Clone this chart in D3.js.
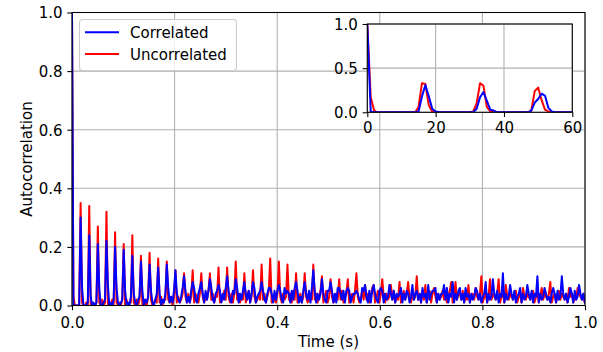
<!DOCTYPE html>
<html>
<head>
<meta charset="utf-8">
<script src="https://cdn.jsdelivr.net/npm/d3@7"></script>
<style>
body { margin: 0; background: #fff; }
text { font-family: "DejaVu Sans", sans-serif; font-size: 15px; fill: #000; }
</style>
</head>
<body>
<script>

var seriesNames = ["Correlated", "Uncorrelated"];
var seriesColors = ["#0000ff", "#ff0000"];

var xTicks = [0, 0.2, 0.4, 0.6, 0.8, 1.0];
var yTicks = [0, 0.2, 0.4, 0.6, 0.8, 1.0];
var insetXTicks = [0, 20, 40, 60];
var insetYTicks = [0, 0.5, 1.0];

// main plot: one row per 16.8 ms period, six readings 2.8 ms apart, in hundredths
var period = 16.8;
var step = 2.8;
var corrMain = [
    [100,0,0,0,0,0], [30,6,0,0,0,1], [24,3,0,1,0,1], [21,6,0,0,1,2], [22,7,0,1,0,2],
    [20,6,1,0,1,2], [19,5,0,1,0,3], [17,4,1,0,2,3], [15,5,0,2,1,3], [14,5,1,0,2,4],
    [13,4,0,2,1,4], [14,6,1,3,1,5], [12,4,2,1,3,6], [10,5,1,3,1,5], [8,6,2,1,4,6],
    [8,4,1,5,2,5], [9,6,2,1,4,5], [7,5,1,4,2,6], [10,5,2,1,5,4], [9,6,1,4,2,5],
    [8,4,2,5,1,4], [8,6,1,3,4,5], [8,5,2,1,4,6], [6,4,1,5,2,5], [7,5,2,1,6,4],
    [5,4,1,5,2,6], [8,5,1,3,1,5], [8,4,2,5,1,6], [12,5,1,4,2,4], [9,4,2,1,5,5],
    [8,5,1,4,1,6], [6,4,2,5,1,5], [6,5,1,3,4,4], [5,4,2,1,6,5], [7,3,1,5,1,5],
    [7,4,2,1,5,6], [5,1,4,2,3,7], [4,2,5,1,4,3], [4,6,1,4,2,5], [4,1,3,7,2,4],
    [5,2,4,1,6,3], [4,1,7,2,4,5], [5,6,1,4,2,4], [4,7,2,6,1,4], [3,8,1,4,2,5],
    [6,2,4,1,6,3], [4,1,4,2,3,6], [5,2,4,1,3,4], [8,1,4,2,3,9], [4,2,5,1,4,3],
    [11,1,4,2,3,7], [4,2,5,1,3,4], [6,1,4,2,3,7], [4,2,5,1,4,3], [10,1,4,2,3,6],
    [4,2,3,1,4,6], [4,1,5,2,3,10], [4,2,4,1,3,6], [4,1,5,2,3,7], [4,2,4,1,3,2]
];
var uncorrMain = [
    [100,3,0,0,0,0], [35,1,0,0,1,0], [34,0,1,0,0,1], [27,1,0,2,0,1], [32,0,1,0,2,0],
    [25,1,0,1,0,2], [21,0,2,0,1,1], [24,1,0,2,0,2], [17,0,2,1,0,3], [18,2,0,1,2,1],
    [16,1,3,0,2,2], [15,2,1,3,0,3], [12,1,3,1,2,4], [11,3,1,4,1,3], [12,1,4,2,1,4],
    [11,3,1,3,2,5], [11,2,4,1,3,3], [13,1,3,2,5,2], [13,3,1,4,1,4], [15,2,4,1,3,2],
    [11,1,3,5,1,3], [12,3,1,2,4,2], [14,2,4,1,3,5], [16,1,3,2,1,4], [15,3,1,4,2,3],
    [14,2,4,1,5,2], [11,1,2,4,1,3], [11,3,1,2,4,2], [14,2,4,1,3,5], [10,1,3,5,1,3],
    [9,3,1,2,4,2], [9,2,5,1,3,4], [9,1,3,4,1,5], [11,3,1,2,5,2], [7,2,4,1,3,6],
    [7,1,3,5,1,4], [9,3,1,4,2,3], [7,2,5,1,3,2], [8,1,3,5,2,4], [8,3,1,4,2,3],
    [10,2,4,1,5,2], [7,1,3,5,1,4], [6,3,1,4,2,3], [5,2,4,1,3,5], [8,1,3,8,2,4],
    [4,2,5,1,3,2], [7,1,3,4,2,6], [3,2,4,10,1,3], [4,1,3,9,2,4], [3,2,4,9,1,3],
    [4,1,7,3,2,4], [3,2,4,5,1,3], [4,1,6,3,2,4], [3,2,4,5,1,3], [4,1,3,6,2,4],
    [3,2,4,8,1,3], [4,1,3,5,2,4], [3,2,4,1,6,3], [4,1,3,2,6,4], [3,2,4,1,3,2]
];

// inset: first 60 lags, one value per lag
var corrInset = [
    1.00,0.01,0,0,0,0,0,0,0,0,
    0,0,0,0,0,0.01,0.18,0.31,0.18,0.04,
    0.01,0,0,0,0,0,0,0,0,0,
    0,0,0.04,0.17,0.23,0.13,0.03,0.02,0,0,
    0,0,0,0,0,0,0,0,0.02,0.11,
    0.15,0.21,0.19,0.05,0.01,0,0,0,0,0,
    0
];
var uncorrInset = [
    1.00,0.17,0.02,0,0,0,0,0,0,0,
    0,0,0,0,0,0.06,0.33,0.32,0.08,0.01,
    0,0,0,0,0,0,0,0,0,0,
    0,0.01,0.10,0.33,0.30,0.06,0.01,0,0,0,
    0,0,0,0,0,0,0,0,0.02,0.24,
    0.28,0.14,0.03,0.01,0,0,0,0,0,0,
    0
];

var rowsToPoints = function(rows) {
    var pts = [];
    rows.forEach(function(row, k) {
        row.forEach(function(v, j) {
            pts.push({t: (k * period + j * step) / 1000, v: v / 100});
        });
    });
    return pts;
};

var w = 603;
var h = 352;
var svg = d3.select("body")
    .append("svg")
    .attr("width", w)
    .attr("height", h);

var mLeft = 72, mRight = 585, mTop = 12.5, mBottom = 305.5;

var xScale = d3.scaleLinear().domain([0, 1]).range([mLeft, mRight]);
var yScale = d3.scaleLinear().domain([0, 1]).range([mBottom, mTop]);

svg.append("clipPath").attr("id", "mainClip")
    .append("rect")
    .attr("x", mLeft).attr("y", mTop - 2)
    .attr("width", mRight - mLeft).attr("height", mBottom - mTop + 2);

// grid
svg.selectAll(".gx").data(xTicks).enter().append("line")
    .attr("x1", function(d) { return xScale(d); })
    .attr("x2", function(d) { return xScale(d); })
    .attr("y1", mTop).attr("y2", mBottom)
    .attr("stroke", "#b0b0b0").attr("stroke-width", 1.07);
svg.selectAll(".gy").data(yTicks).enter().append("line")
    .attr("y1", function(d) { return yScale(d); })
    .attr("y2", function(d) { return yScale(d); })
    .attr("x1", mLeft).attr("x2", mRight)
    .attr("stroke", "#b0b0b0").attr("stroke-width", 1.07);

var mainLine = d3.line()
    .x(function(d) { return xScale(d.t); })
    .y(function(d) { return yScale(d.v); });

var mainG = svg.append("g").attr("clip-path", "url(#mainClip)");
mainG.append("path")
    .attr("d", mainLine(rowsToPoints(uncorrMain)))
    .attr("fill", "none").attr("stroke", seriesColors[1]).attr("stroke-width", 2)
    .attr("stroke-linejoin", "round");
mainG.append("path")
    .attr("d", mainLine(rowsToPoints(corrMain)))
    .attr("fill", "none").attr("stroke", seriesColors[0]).attr("stroke-width", 2)
    .attr("stroke-linejoin", "round");

svg.append("rect")
    .attr("x", mLeft).attr("y", mTop)
    .attr("width", mRight - mLeft).attr("height", mBottom - mTop)
    .attr("fill", "none").attr("stroke", "#000").attr("stroke-width", 1.07);

var fmt1 = d3.format(".1f");

svg.append("g")
    .attr("transform", "translate(0," + mBottom + ")")
    .call(d3.axisBottom(xScale).tickValues(xTicks).tickFormat(fmt1).tickSize(4.7).tickPadding(4.7))
    .call(function(g) {
        g.select(".domain").remove();
        g.selectAll("line").attr("stroke-width", 1.07);
        g.selectAll("text").attr("dy", null).attr("y", 22.3);
    });
svg.append("g")
    .attr("transform", "translate(" + mLeft + ",0)")
    .call(d3.axisLeft(yScale).tickValues(yTicks).tickFormat(fmt1).tickSize(4.7).tickPadding(4.7))
    .call(function(g) {
        g.select(".domain").remove();
        g.selectAll("line").attr("stroke-width", 1.07);
        g.selectAll("text").attr("dy", "0.36em");
    });

svg.append("text")
    .attr("x", (mLeft + mRight) / 2).attr("y", 346.5)
    .attr("text-anchor", "middle")
    .text("Time (s)");
svg.append("text")
    .attr("transform", "translate(32.3," + (mTop + mBottom) / 2 + ") rotate(-90)")
    .attr("text-anchor", "middle")
    .text("Autocorrelation");

// legend
var legend = svg.append("g");
legend.append("rect")
    .attr("x", 79.5).attr("y", 19.5)
    .attr("width", 157).attr("height", 51)
    .attr("rx", 3).attr("ry", 3)
    .attr("fill", "#fff").attr("fill-opacity", 0.8)
    .attr("stroke", "#cccccc").attr("stroke-width", 1.07);
seriesNames.forEach(function(name, i) {
    var yy = 32.3 + i * 21.8;
    legend.append("line")
        .attr("x1", 85).attr("x2", 119)
        .attr("y1", yy).attr("y2", yy)
        .attr("stroke", seriesColors[i]).attr("stroke-width", 2);
    legend.append("text")
        .attr("x", 130).attr("y", yy + 5.4)
        .text(name);
});

// inset
var iLeft = 367.3, iRight = 572.3, iTop = 24, iBottom = 112.3;
var ixScale = d3.scaleLinear().domain([0, 60]).range([iLeft, iRight]);
var iyScale = d3.scaleLinear().domain([0, 1]).range([iBottom, iTop]);

svg.append("clipPath").attr("id", "insetClip")
    .append("rect")
    .attr("x", iLeft).attr("y", iTop - 2)
    .attr("width", iRight - iLeft).attr("height", iBottom - iTop + 2);

svg.append("rect")
    .attr("x", iLeft).attr("y", iTop)
    .attr("width", iRight - iLeft).attr("height", iBottom - iTop)
    .attr("fill", "#fff");

svg.selectAll(".igx").data(insetXTicks).enter().append("line")
    .attr("x1", function(d) { return ixScale(d); })
    .attr("x2", function(d) { return ixScale(d); })
    .attr("y1", iTop).attr("y2", iBottom)
    .attr("stroke", "#b0b0b0").attr("stroke-width", 1.07);
svg.selectAll(".igy").data(insetYTicks).enter().append("line")
    .attr("y1", function(d) { return iyScale(d); })
    .attr("y2", function(d) { return iyScale(d); })
    .attr("x1", iLeft).attr("x2", iRight)
    .attr("stroke", "#b0b0b0").attr("stroke-width", 1.07);

var insetLine = d3.line()
    .x(function(d, i) { return ixScale(i); })
    .y(function(d) { return iyScale(d); });

var insetG = svg.append("g").attr("clip-path", "url(#insetClip)");
insetG.append("path")
    .attr("d", insetLine(uncorrInset))
    .attr("fill", "none").attr("stroke", seriesColors[1]).attr("stroke-width", 2)
    .attr("stroke-linejoin", "round");
insetG.append("path")
    .attr("d", insetLine(corrInset))
    .attr("fill", "none").attr("stroke", seriesColors[0]).attr("stroke-width", 2)
    .attr("stroke-linejoin", "round");

svg.append("rect")
    .attr("x", iLeft).attr("y", iTop)
    .attr("width", iRight - iLeft).attr("height", iBottom - iTop)
    .attr("fill", "none").attr("stroke", "#000").attr("stroke-width", 1.07);

svg.append("g")
    .attr("transform", "translate(0," + iBottom + ")")
    .call(d3.axisBottom(ixScale).tickValues(insetXTicks).tickFormat(d3.format("d")).tickSize(4.7).tickPadding(4.7))
    .call(function(g) {
        g.select(".domain").remove();
        g.selectAll("line").attr("stroke-width", 1.07);
        g.selectAll("text").attr("dy", null).attr("y", 21);
    });
svg.append("g")
    .attr("transform", "translate(" + iLeft + ",0)")
    .call(d3.axisLeft(iyScale).tickValues(insetYTicks).tickFormat(fmt1).tickSize(4.7).tickPadding(4.7))
    .call(function(g) {
        g.select(".domain").remove();
        g.selectAll("line").attr("stroke-width", 1.07);
        g.selectAll("text").attr("dy", "0.36em");
    });

// axis groups set font-size 10 and sans-serif; override them
svg.selectAll(".tick text")
    .style("font-size", "15px")
    .style("font-family", "DejaVu Sans")
    .attr("fill", "#000");

</script>
</body>
</html>
